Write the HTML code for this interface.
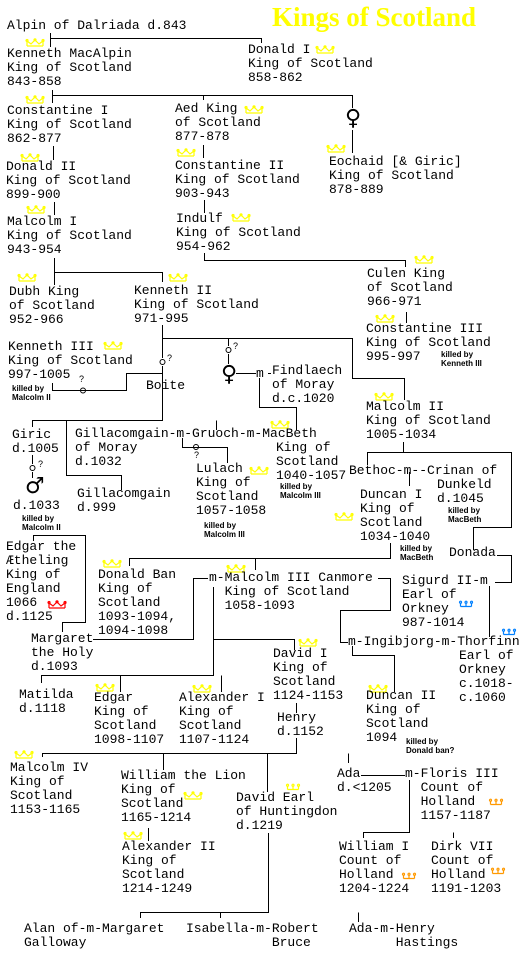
<!DOCTYPE html>
<html><head><meta charset="utf-8"><style>
body{margin:0;background:#fff;}
#c{position:relative;width:528px;height:957px;overflow:hidden;background:#fff;}
.t{position:absolute;white-space:pre;font:13px/14px "Liberation Mono","DejaVu Sans Mono",monospace;color:#000;}
.k{position:absolute;white-space:pre;font:bold 8px/9px "Liberation Sans",sans-serif;color:#000;}
.q{position:absolute;font:9px/9px "Liberation Sans",sans-serif;}
.s{position:absolute;font:22px/22px "DejaVu Sans",sans-serif;color:#000;}
svg{position:absolute;left:0;top:0;}
</style></head><body><div id="c">
<svg width="528" height="957" viewBox="0 0 528 957">
<defs>
<g id="cr" fill="none" stroke="#ffff00" stroke-width="1.2"><path d="M1,7 L17,7 M1,7 L1,2 L5,5 L9,1 L13,5 L17,2 L17,7"/><circle cx="1" cy="1.5" r="1"/><circle cx="9" cy="0.8" r="1"/><circle cx="17" cy="1.5" r="1"/></g>
<g id="crr" fill="none" stroke="#ff0000" stroke-width="1.2"><path d="M1,7 L17,7 M1,7 L1,2 L5,5 L9,1 L13,5 L17,2 L17,7"/><circle cx="1" cy="1.5" r="1"/><circle cx="9" cy="0.8" r="1"/><circle cx="17" cy="1.5" r="1"/></g>
<g id="cb" fill="none" stroke-width="1.2"><path d="M0.5,5.5 L11.5,5.5 M0.5,5.5 L0.5,2 M6,5.5 L6,2 M11.5,5.5 L11.5,2"/><circle cx="0.5" cy="1.2" r="1"/><circle cx="6" cy="1.2" r="1"/><circle cx="11.5" cy="1.2" r="1"/></g>
</defs>
<g stroke="#000" stroke-width="1" fill="none">
<path d="M50.5,33 V47 M50.5,38.5 H261.5 V43"/>
<path d="M52.5,90 V103 M52.5,95.5 H352.5 V108 M203.5,95 V100 M352.5,130 V153"/>
<path d="M203.5,145 V158 M53.5,146 V160"/>
<path d="M54.5,202 V215 M204.5,200 V213"/>
<path d="M204.5,253 V260.5 H405.5 V267 M406.5,312 V323"/>
<path d="M54.5,258 V285 M54.5,272.5 H162.5 V282"/>
<path d="M162.5,325 V358 M162.5,366 V396 M162.5,338.5 H352.5 V378.5 H404.5 V400"/>
<path d="M162.5,373.5 H126.5 V390.5 H52.5 V383"/>
<path d="M228.5,338 V346 M228.5,354 V364"/>
<path d="M236,373.5 H256 M268,373.5 H271 M259.5,378 V407.5 H296.5 V430"/>
<path d="M162.5,396 V420.5 H32.5 V427 M66.5,420.5 V475.5 H121.5 V490 M216.5,420.5 V430"/>
<path d="M32.5,455 V464 M32.5,472 V478"/>
<path d="M182.5,438 V447.5 H227.5 V463 M227.5,447.5"/>
<path d="M403.5,442 V452.5 H367.5 V465 M403.5,452.5 H511.5 V527.5 H473.5 V550"/>
<path d="M409.5,472 V486 M390.5,543 V558.5 H129.5 V566 M255.5,558.5 V570"/>
<path d="M497,555.5 H511.5 V582.5 H495"/>
<path d="M33.5,541 V535.5 H85.5 V622.5 H62.5 V632"/>
<path d="M193,578.5 H208 M193.5,578.5 V639.5 H93"/>
<path d="M378,578.5 H390.5 V610.5 H340.5 V642.5 H348"/>
<path d="M352.5,646 V655.5 H394.5 V692"/>
<path d="M489.5,586 V637"/>
<path d="M213.5,587 V675.5 H41.5 V683 M120.5,675.5 V692 M221.5,675.5 V692 M213.5,639.5 H294.5 V650"/>
<path d="M296.5,703 V713 M296.5,738 V753.5 H42.5 V757 M163.5,753.5 V770 M267.5,753.5 V792 M348.5,753.5 V763"/>
<path d="M148.5,828 V841 M361,775.5 H405 M409.5,780 V832.5 H363.5 V838 M453.5,832.5 V838"/>
<path d="M268.5,833 V912.5 H140.5 V918 M220.5,912.5 V918 M358.5,912.5 V922"/>
</g>
<g fill="none" stroke="#000"><circle cx="162.5" cy="362" r="2.5"/><circle cx="228.5" cy="350" r="2.5"/><circle cx="83" cy="390.5" r="2.5"/><circle cx="196" cy="447" r="2.5"/><circle cx="32.5" cy="468" r="2.5"/></g>
<use href="#cr" x="26" y="39"/><use href="#cr" x="316" y="46"/><use href="#cr" x="26" y="96"/><use href="#cr" x="245" y="106"/>
<use href="#cr" x="177" y="149"/><use href="#cr" x="21" y="154"/><use href="#cr" x="327" y="145"/><use href="#cr" x="27" y="206"/>
<use href="#cr" x="232" y="214"/><use href="#cr" x="415" y="256"/><use href="#cr" x="376" y="315"/><use href="#cr" x="18" y="274"/>
<use href="#cr" x="169" y="274"/><use href="#cr" x="104" y="342"/><use href="#cr" x="375" y="393"/><use href="#cr" x="271" y="421"/>
<use href="#cr" x="250" y="467"/><use href="#cr" x="335" y="513"/><use href="#cr" x="103" y="560"/><use href="#cr" x="227" y="565"/>
<use href="#cr" x="299" y="639"/><use href="#cr" x="96" y="684"/><use href="#cr" x="193" y="685"/><use href="#cr" x="369" y="685"/>
<use href="#cr" x="15" y="751"/><use href="#cr" x="184" y="792"/><use href="#cr" x="124" y="832"/>
<use href="#crr" x="48" y="601"/>
<use href="#cb" x="460" y="601" stroke="#0080ff"/><use href="#cb" x="503" y="629" stroke="#0080ff"/>
<use href="#cb" x="287" y="784" stroke="#ffff00"/>
<use href="#cb" x="490" y="799" stroke="#ff9900"/><use href="#cb" x="403" y="873" stroke="#ff9900"/><use href="#cb" x="492" y="868" stroke="#ff9900"/>
</svg>
<div style="position:absolute;left:272px;top:1px;font:bold 27px/32px 'Liberation Serif',serif;color:#ffff00;white-space:pre">Kings of Scotland</div>
<div class="t" style="left:7px;top:19px">Alpin of Dalriada d.843</div>
<div class="t" style="left:7px;top:47px">Kenneth MacAlpin<br>King of Scotland<br>843-858</div>
<div class="t" style="left:248px;top:43px">Donald I<br>King of Scotland<br>858-862</div>
<div class="t" style="left:7px;top:104px">Constantine I<br>King of Scotland<br>862-877</div>
<div class="t" style="left:175px;top:102px">Aed King<br>of Scotland<br>877-878</div>
<div class="s" style="left:345px;top:108px">♀</div>
<div class="t" style="left:175px;top:159px">Constantine II<br>King of Scotland<br>903-943</div>
<div class="t" style="left:6px;top:160px">Donald II<br>King of Scotland<br>899-900</div>
<div class="t" style="left:329px;top:155px">Eochaid [&amp; Giric]<br>King of Scotland<br>878-889</div>
<div class="t" style="left:7px;top:215px">Malcolm I<br>King of Scotland<br>943-954</div>
<div class="t" style="left:176px;top:212px">Indulf<br>King of Scotland<br>954-962</div>
<div class="t" style="left:367px;top:267px">Culen King<br>of Scotland<br>966-971</div>
<div class="t" style="left:366px;top:322px">Constantine III<br>King of Scotland<br>995-997</div>
<div class="k" style="left:441px;top:350px">killed by<br>Kenneth III</div>
<div class="t" style="left:9px;top:285px">Dubh King<br>of Scotland<br>952-966</div>
<div class="t" style="left:134px;top:284px">Kenneth II<br>King of Scotland<br>971-995</div>
<div class="t" style="left:8px;top:340px">Kenneth III<br>King of Scotland<br>997-1005</div>
<div class="k" style="left:12px;top:384px">killed by<br>Malcolm II</div>
<div class="q" style="left:167px;top:354px">?</div><div class="q" style="left:233px;top:342px">?</div><div class="q" style="left:79px;top:375px">?</div>
<div class="q" style="left:194px;top:451px">?</div><div class="q" style="left:38px;top:460px">?</div>
<div class="t" style="left:146px;top:379px">Boite</div>
<div class="s" style="left:221px;top:364px">♀</div>
<div class="t" style="left:256px;top:367px">m</div>
<div class="t" style="left:272px;top:364px">Findlaech<br>of Moray<br>d.c.1020</div>
<div class="t" style="left:366px;top:400px">Malcolm II<br>King of Scotland<br>1005-1034</div>
<div class="t" style="left:12px;top:428px">Giric<br>d.1005</div>
<div class="s" style="left:25px;top:476px">♂</div>
<div class="t" style="left:13px;top:499px">d.1033</div>
<div class="k" style="left:22px;top:514px">killed by<br>Malcolm II</div>
<div class="t" style="left:75px;top:427px">Gillacomgain-m-Gruoch-m-MacBeth<br>of Moray<br>d.1032</div>
<div class="t" style="left:276px;top:441px">King of<br>Scotland<br>1040-1057</div>
<div class="k" style="left:280px;top:482px">killed by<br>Malcolm III</div>
<div class="t" style="left:77px;top:487px">Gillacomgain<br>d.999</div>
<div class="t" style="left:196px;top:462px">Lulach<br>King of<br>Scotland<br>1057-1058</div>
<div class="k" style="left:204px;top:521px">killed by<br>Malcolm III</div>
<div class="t" style="left:349px;top:464px">Bethoc-m--Crinan of</div>
<div class="t" style="left:437px;top:478px">Dunkeld<br>d.1045</div>
<div class="k" style="left:448px;top:506px">killed by<br>MacBeth</div>
<div class="t" style="left:360px;top:488px">Duncan I<br>King of<br>Scotland<br>1034-1040</div>
<div class="k" style="left:400px;top:544px">killed by<br>MacBeth</div>
<div class="t" style="left:449px;top:546px">Donada</div>
<div class="t" style="left:6px;top:540px">Edgar the<br>Ætheling<br>King of<br>England<br>1066<br>d.1125</div>
<div class="t" style="left:98px;top:568px">Donald Ban<br>King of<br>Scotland<br>1093-1094,<br>1094-1098</div>
<div class="t" style="left:209px;top:571px">m-Malcolm III Canmore<br>  King of Scotland<br>  1058-1093</div>
<div class="t" style="left:402px;top:574px">Sigurd II-m<br>Earl of<br>Orkney<br>987-1014</div>
<div class="t" style="left:31px;top:632px">Margaret<br>the Holy<br>d.1093</div>
<div class="t" style="left:348px;top:635px">m-Ingibjorg-m-Thorfinn</div>
<div class="t" style="left:459px;top:649px">Earl of<br>Orkney<br>c.1018-<br>c.1060</div>
<div class="t" style="left:273px;top:647px">David I<br>King of<br>Scotland<br>1124-1153</div>
<div class="t" style="left:19px;top:688px">Matilda<br>d.1118</div>
<div class="t" style="left:94px;top:691px">Edgar<br>King of<br>Scotland<br>1098-1107</div>
<div class="t" style="left:179px;top:691px">Alexander I<br>King of<br>Scotland<br>1107-1124</div>
<div class="t" style="left:277px;top:711px">Henry<br>d.1152</div>
<div class="t" style="left:366px;top:689px">Duncan II<br>King of<br>Scotland<br>1094</div>
<div class="k" style="left:406px;top:737px">killed by<br>Donald ban?</div>
<div class="t" style="left:10px;top:761px">Malcolm IV<br>King of<br>Scotland<br>1153-1165</div>
<div class="t" style="left:121px;top:769px">William the Lion<br>King of<br>Scotland<br>1165-1214</div>
<div class="t" style="left:122px;top:840px">Alexander II<br>King of<br>Scotland<br>1214-1249</div>
<div class="t" style="left:236px;top:791px">David Earl<br>of Huntingdon<br>d.1219</div>
<div class="t" style="left:337px;top:767px">Ada<br>d.&lt;1205</div>
<div class="t" style="left:405px;top:767px">m-Floris III<br>  Count of<br>  Holland<br>  1157-1187</div>
<div class="t" style="left:339px;top:840px">William I<br>Count of<br>Holland<br>1204-1224</div>
<div class="t" style="left:431px;top:840px">Dirk VII<br>Count of<br>Holland<br>1191-1203</div>
<div class="t" style="left:24px;top:922px">Alan of-m-Margaret<br>Galloway</div>
<div class="t" style="left:186px;top:922px">Isabella-m-Robert<br>           Bruce</div>
<div class="t" style="left:349px;top:922px">Ada-m-Henry<br>      Hastings</div>
</div></body></html>
